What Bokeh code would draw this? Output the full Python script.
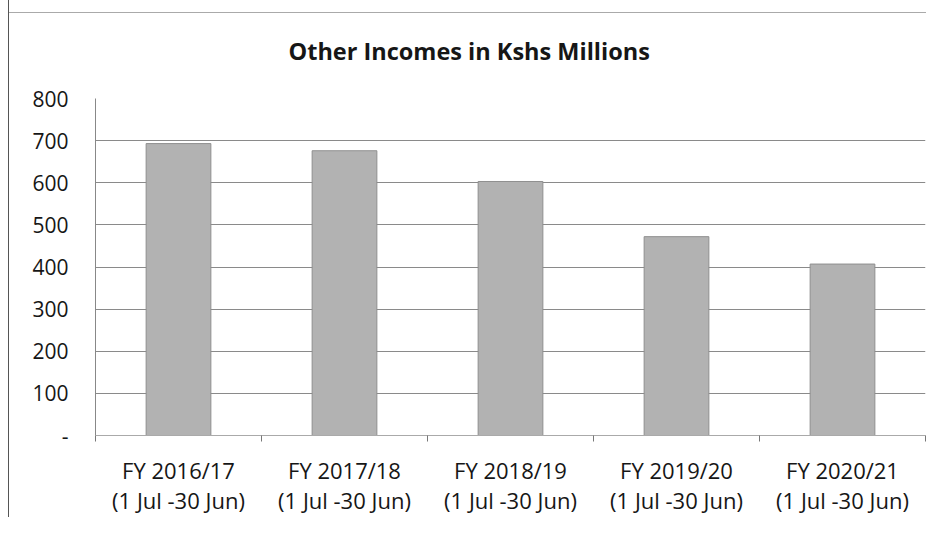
from bokeh.plotting import figure
from bokeh.models import FixedTicker, Range1d, LinearAxis
from bokeh.embed import file_html
from bokeh.resources import INLINE

title_text = "Other Incomes in Kshs Millions"
fiscal_years = ["FY 2016/17", "FY 2017/18", "FY 2018/19", "FY 2019/20", "FY 2020/21"]
periods = ["(1 Jul -30 Jun)"] * 5
values = [693, 676, 603, 472, 407]
y_ticks = [0, 100, 200, 300, 400, 500, 600, 700, 800]
y_tick_labels = ["-", "100", "200", "300", "400", "500", "600", "700", "800"]

FONT = "Open Sans"
TXT = "#161616"
n = len(fiscal_years)
centers = [i + 0.5 for i in range(n)]

p = figure(width=918, height=517, x_range=Range1d(0, n), y_range=Range1d(0, 800),
           output_backend="svg", toolbar_location=None,
           min_border_left=86, min_border_right=2, min_border_top=98, min_border_bottom=10)
p.outline_line_color = None
p.background_fill_color = "white"
p.border_fill_alpha = 0

p.title.text = title_text
p.title.text_font = FONT
p.title.text_font_size = "23.5px"
p.title.text_font_style = "bold"
p.title.text_color = TXT
p.title.text_line_height = 0.9
p.title.align = "left"
p.title.offset = 193
p.title.standoff = 64

p.vbar(x=centers, top=values, width=0.39, fill_color="#b2b2b2", line_color="#8f8f8f", line_width=1)

# grid
p.xgrid.visible = False
p.ygrid.ticker = FixedTicker(ticks=y_ticks)
p.ygrid.grid_line_color = "#8a8a8a"
p.ygrid.grid_line_width = 1

# y axis
ya = p.yaxis[0]
ya.ticker = FixedTicker(ticks=y_ticks)
ya.major_label_overrides = {t: l for t, l in zip(y_ticks, y_tick_labels)}
ya.major_tick_line_color = None
ya.minor_tick_line_color = None
ya.axis_line_color = "#888888"
ya.major_label_text_font = FONT
ya.major_label_text_font_size = "21px"
ya.major_label_text_color = TXT
ya.major_label_standoff = 21

# x axis line 1
xa = p.xaxis[0]
xa.ticker = FixedTicker(ticks=centers, minor_ticks=list(range(n + 1)))
xa.major_label_overrides = {c: l for c, l in zip(centers, fiscal_years)}
xa.major_tick_line_color = None
xa.major_tick_out = 0
xa.minor_tick_line_color = "#777777"
xa.minor_tick_out = 6
xa.minor_tick_in = 0
xa.axis_line_color = "#aaaaaa"
xa.major_label_text_font = FONT
xa.major_label_text_font_size = "22px"
xa.major_label_text_color = TXT
xa.major_label_standoff = 13

# x axis line 2
xa2 = LinearAxis(ticker=FixedTicker(ticks=centers),
                 major_label_overrides={c: l for c, l in zip(centers, periods)})
xa2.axis_line_color = None
xa2.major_tick_line_color = None
xa2.minor_tick_line_color = None
xa2.major_tick_out = 0
xa2.major_label_text_font = FONT
xa2.major_label_text_font_size = "22px"
xa2.major_label_text_color = TXT
xa2.major_label_standoff = -3
p.add_layout(xa2, "below")

p.styles = {"margin-left": "8px", "border-left": "1px solid #555555",
            "background": "linear-gradient(#aaaaaa, #aaaaaa) 0 12px / 100% 1px no-repeat, white"}

open("out.html", "w").write(file_html(p, INLINE))
